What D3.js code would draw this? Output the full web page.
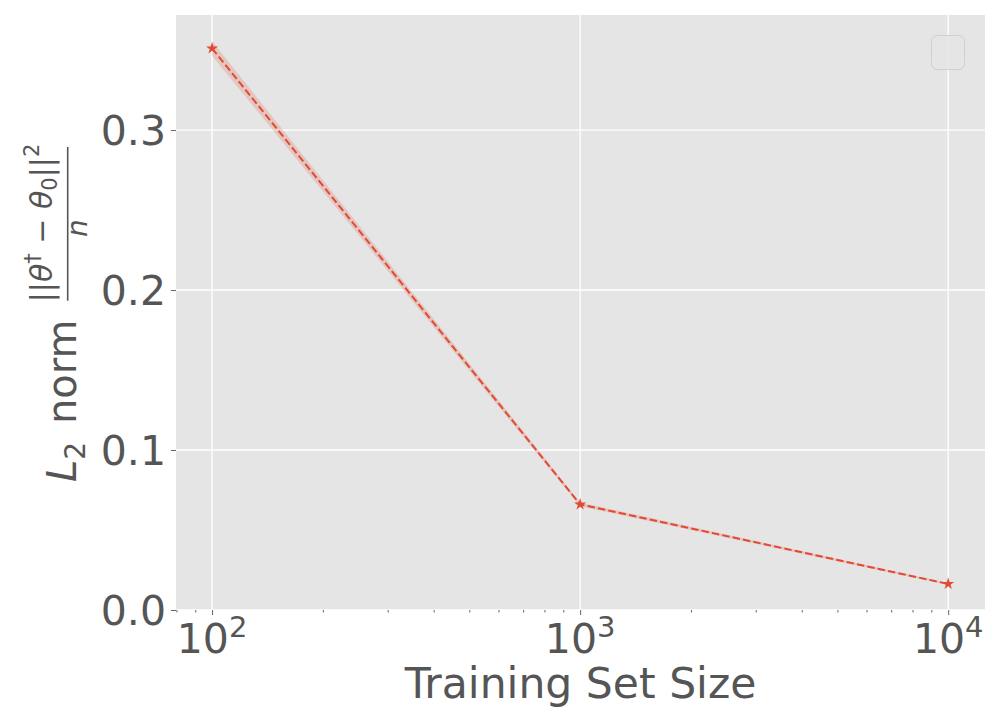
<!DOCTYPE html>
<html>
<head>
<meta charset="utf-8">
<script src="https://cdn.jsdelivr.net/npm/d3@7"></script>
<style>
  html, body { margin: 0; padding: 0; background: #ffffff; }
  svg { display: block; font-family: "DejaVu Sans", sans-serif; }
</style>
</head>
<body>
<svg id="chart" width="1000" height="721"></svg>
<script>
// ---- data ----
const trainSizes = [100, 1000, 10000];
const l2Norm = [0.351, 0.066, 0.0163];
const l2Std = [0.0045, 0.0012, 0.0006];
const yTicks = [0.0, 0.1, 0.2, 0.3];
const xTickExponents = [2, 3, 4];
const xLabel = "Training Set Size";

// ---- layout ----
const plot = { left: 176, right: 985, top: 15, bottom: 610 };
const textColor = "#555555";
const lineColor = "#E24A33";

const svg = d3.select("#chart");

const x = d3.scaleLog()
  .domain([Math.pow(10, 1.902), Math.pow(10, 4.1)])
  .range([plot.left, plot.right]);
const y = d3.scaleLinear()
  .domain([0, 0.3719])
  .range([plot.bottom, plot.top]);

// background
svg.append("rect")
  .attr("x", plot.left).attr("y", plot.top)
  .attr("width", plot.right - plot.left).attr("height", plot.bottom - plot.top)
  .attr("fill", "#E5E5E5");

// grid
const majorX = xTickExponents.map(e => Math.pow(10, e));
svg.append("g").selectAll("line").data(majorX).join("line")
  .attr("x1", d => x(d)).attr("x2", d => x(d))
  .attr("y1", plot.top).attr("y2", plot.bottom)
  .attr("stroke", "#ffffff").attr("stroke-width", 1.3);
svg.append("g").selectAll("line").data(yTicks).join("line")
  .attr("x1", plot.left).attr("x2", plot.right)
  .attr("y1", d => y(d)).attr("y2", d => y(d))
  .attr("stroke", "#ffffff").attr("stroke-width", 1.3);

// x axis ticks (major + minor)
const minorX = [];
[1, 2, 3].forEach(e => {
  for (let k = 2; k <= 9; k++) {
    const v = k * Math.pow(10, e);
    if (v > x.domain()[0] && v < x.domain()[1]) minorX.push(v);
  }
});
const xAxisMajor = d3.axisBottom(x).tickValues(majorX).tickSize(5).tickFormat("");
const xAxisMinor = d3.axisBottom(x).tickValues(minorX).tickSize(2.5).tickFormat("");
[xAxisMajor, xAxisMinor].forEach(ax => {
  const g = svg.append("g").attr("transform", `translate(0,${plot.bottom})`).call(ax);
  g.select(".domain").remove();
  g.selectAll(".tick line").attr("stroke", textColor).attr("stroke-width", 0.9);
});

// x tick labels 10^e
const xl = svg.append("g");
xTickExponents.forEach(e => {
  const t = xl.append("text")
    .attr("y", 653)
    .attr("fill", textColor)
    .attr("font-size", 41)
    .attr("text-anchor", "middle")
    .attr("x", x(Math.pow(10, e)));
  t.append("tspan").text("10");
  t.append("tspan").attr("font-size", 29).attr("dy", -16).text(String(e));
});

// y axis ticks
const yAxis = d3.axisLeft(y).tickValues(yTicks).tickSize(5).tickFormat("");
const gy = svg.append("g").attr("transform", `translate(${plot.left},0)`).call(yAxis);
gy.select(".domain").remove();
gy.selectAll(".tick line").attr("stroke", textColor).attr("stroke-width", 0.9);
svg.append("g").selectAll("text").data(yTicks).join("text")
  .attr("x", 166)
  .attr("y", d => y(d) + 15)
  .attr("text-anchor", "end")
  .attr("fill", textColor)
  .attr("font-size", 41)
  .text(d => d.toFixed(1));

// x label
svg.append("text")
  .attr("x", (plot.left + plot.right) / 2)
  .attr("y", 698)
  .attr("text-anchor", "middle")
  .attr("fill", textColor)
  .attr("font-size", 42.5)
  .text(xLabel);

// y label (mathtext-like)
const yl = svg.append("g").attr("transform", "translate(76,0) rotate(-90)");
const main = yl.append("text")
  .attr("x", -482).attr("y", 0)
  .attr("fill", textColor).attr("font-size", 40);
main.append("tspan").attr("font-style", "italic").text("L");
main.append("tspan").attr("font-size", 28).attr("dy", 9).text("2");
main.append("tspan").attr("dy", -9).attr("x", -424).text("norm");

const fracC = -223;
yl.append("line")
  .attr("x1", -300.7).attr("x2", -147)
  .attr("y1", -8.3).attr("y2", -8.3)
  .attr("stroke", textColor).attr("stroke-width", 1.6);
const num = yl.append("text")
  .attr("x", fracC).attr("y", -24)
  .attr("text-anchor", "middle")
  .attr("fill", textColor).attr("font-size", 30);
num.append("tspan").text("||");
num.append("tspan").attr("font-style", "italic").text("θ");
num.append("tspan").attr("font-size", 21).attr("dy", -12).text("†");
num.append("tspan").attr("dy", 12).text(" − ");
num.append("tspan").attr("font-style", "italic").text("θ");
num.append("tspan").attr("font-size", 21).attr("dy", 5).text("0");
num.append("tspan").attr("dy", -5).text("||");
num.append("tspan").attr("font-size", 21).attr("dy", -13).text("2");
yl.append("text")
  .attr("x", fracC - 5).attr("y", 11)
  .attr("text-anchor", "middle")
  .attr("fill", textColor).attr("font-size", 28)
  .attr("font-style", "italic")
  .text("n");

// data
const pts = trainSizes.map((s, i) => ({ s, v: l2Norm[i], sd: l2Std[i] }));

svg.append("path")
  .datum(pts)
  .attr("d", d3.area().x(d => x(d.s)).y0(d => y(d.v - d.sd)).y1(d => y(d.v + d.sd)))
  .attr("fill", lineColor).attr("fill-opacity", 0.2);

svg.append("path")
  .datum(pts)
  .attr("d", d3.line().x(d => x(d.s)).y(d => y(d.v)))
  .attr("fill", "none")
  .attr("stroke", lineColor).attr("stroke-width", 2)
  .attr("stroke-dasharray", "7.4,3.2");

svg.append("g").selectAll("path").data(pts).join("path")
  .attr("transform", d => `translate(${x(d.s)},${y(d.v)})`)
  .attr("d", d3.symbol().type(d3.symbolStar).size(45))
  .attr("fill", lineColor);

// empty legend box
svg.append("rect")
  .attr("x", 931.5).attr("y", 35.5).attr("width", 33).attr("height", 34)
  .attr("rx", 6).attr("ry", 6)
  .attr("fill", "#E5E5E5").attr("fill-opacity", 0.8)
  .attr("stroke", "#d0d0d0").attr("stroke-width", 1);
</script>
</body>
</html>
